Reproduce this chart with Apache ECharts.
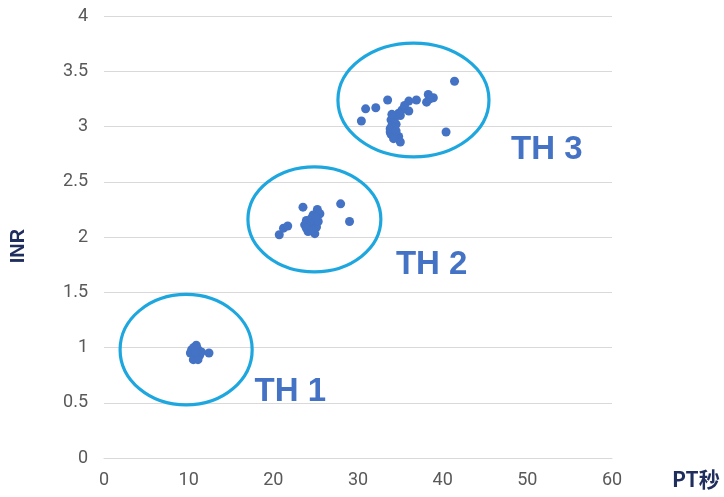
<!DOCTYPE html>
<html>
<head>
<meta charset="utf-8">
<script src="https://cdn.jsdelivr.net/npm/echarts@6/dist/echarts.min.js"></script>
<style>
html,body{margin:0;padding:0;background:#fff;}
#chart{width:724px;height:497px;}
</style>
</head>
<body>
<div id="chart"></div>
<script>
// PT (seconds) vs INR data points
const th1Points = [
  [10.9, 1.02], [10.35, 0.98], [11.1, 0.98], [10.75, 0.93], [10.2, 0.95],
  [11.3, 0.93], [10.55, 0.89], [11.1, 0.89], [11.0, 0.99], [11.5, 0.96],
  [10.6, 1.0], [10.8, 0.96], [12.4, 0.95]
];
const th2Points = [
  [23.5, 2.27], [27.95, 2.30], [29.0, 2.14], [20.7, 2.02], [21.2, 2.08], [21.7, 2.10],
  [25.2, 2.25], [25.5, 2.21], [24.7, 2.20], [23.9, 2.15], [23.7, 2.11], [24.4, 2.11],
  [25.1, 2.09], [24.9, 2.03], [24.1, 2.05], [25.3, 2.14], [23.9, 2.08], [24.5, 2.17],
  [24.6, 2.06], [25.0, 2.18]
];
const th3Points = [
  [41.4, 3.41], [40.4, 2.95], [30.4, 3.05], [30.9, 3.16], [32.1, 3.17], [33.5, 3.24],
  [36.0, 3.23], [36.9, 3.24], [36.0, 3.14], [38.3, 3.29], [38.1, 3.22], [38.9, 3.26],
  [38.5, 3.25], [33.9, 3.06], [34.0, 3.01], [33.8, 2.95], [34.5, 3.02], [35.0, 3.10],
  [35.2, 3.15], [35.5, 3.19], [34.8, 2.91], [35.0, 2.86], [33.9, 2.93], [34.3, 3.07],
  [33.8, 2.98], [34.5, 2.96], [34.2, 2.89], [34.8, 3.12], [34.0, 3.11]
];
// Group outlines: [centerX, centerY, radiusX, radiusY] in data units
const groupEllipses = [
  [9.7, 0.98, 7.8, 0.5],
  [24.85, 2.16, 7.85, 0.475],
  [36.55, 3.24, 8.92, 0.515]
];
// Group labels: [x, y, text]
const groupLabels = [
  [22.0, 0.60, 'TH 1'],
  [38.7, 1.75, 'TH 2'],
  [52.3, 2.79, 'TH 3']
];
const xTicks = { min: 0, max: 60, interval: 10 };
const yTicks = { min: 0, max: 4, interval: 0.5 };

const allPoints = th1Points.concat(th2Points, th3Points);

const chart = echarts.init(document.getElementById('chart'));
const tickFont = 'Roboto, "Liberation Sans", sans-serif';
chart.setOption({
  animation: false,
  grid: { left: 104, right: 112, top: 16, bottom: 39, containLabel: false },
  xAxis: {
    type: 'value', min: xTicks.min, max: xTicks.max, interval: xTicks.interval,
    name: 'PT秒', nameLocation: 'end', nameGap: 60,
    nameTextStyle: { color: '#1f2e5c', fontSize: 21, fontWeight: 'bold', fontFamily: '"Noto Sans CJK JP", sans-serif', verticalAlign: 'top', padding: [11, 0, 0, 0] },
    axisLine: { show: true, lineStyle: { color: '#d9d9d9', width: 1 } },
    axisTick: { show: false },
    splitLine: { show: false },
    axisLabel: { color: '#595959', fontSize: 18, fontFamily: tickFont, margin: 13 }
  },
  yAxis: {
    type: 'value', min: yTicks.min, max: yTicks.max, interval: yTicks.interval,
    name: 'INR', nameLocation: 'middle', nameGap: 76, nameRotate: 90,
    nameTextStyle: { color: '#1f2e5c', fontSize: 20, fontWeight: 'bold', fontFamily: '"Liberation Sans", sans-serif', padding: [0, 18, 0, 0] },
    axisLine: { show: false },
    axisTick: { show: false },
    splitLine: { show: true, lineStyle: { color: '#d9d9d9', width: 1 } },
    axisLabel: { color: '#595959', fontSize: 18, fontFamily: tickFont, margin: 16 }
  },
  series: [
    {
      type: 'scatter',
      data: allPoints,
      symbolSize: 9,
      itemStyle: { color: '#4472c4', opacity: 1 },
      z: 3
    },
    {
      type: 'custom',
      data: groupEllipses,
      renderItem: function (params, api) {
        const c = api.coord([api.value(0), api.value(1)]);
        const s = api.size([api.value(2), api.value(3)]);
        const rx = s[0], ry = s[1];
        const d = 'M' + (c[0] - rx) + ' ' + c[1] +
          ' A' + rx + ' ' + ry + ' 0 1 0 ' + (c[0] + rx) + ' ' + c[1] +
          ' A' + rx + ' ' + ry + ' 0 1 0 ' + (c[0] - rx) + ' ' + c[1] + ' Z';
        return {
          type: 'path',
          shape: { pathData: d },
          style: { fill: 'none', stroke: '#1ea7df', lineWidth: 3.2 }
        };
      },
      z: 4,
      silent: true
    },
    {
      type: 'custom',
      data: groupLabels,
      renderItem: function (params, api) {
        const c = api.coord([api.value(0), api.value(1)]);
        return {
          type: 'text',
          x: c[0], y: c[1],
          style: {
            text: groupLabels[params.dataIndex][2],
            fill: '#4472c4',
            font: 'bold 33px "Liberation Sans", Arial, sans-serif',
            align: 'center', verticalAlign: 'middle'
          }
        };
      },
      z: 5,
      silent: true
    }
  ]
});
</script>
</body>
</html>
